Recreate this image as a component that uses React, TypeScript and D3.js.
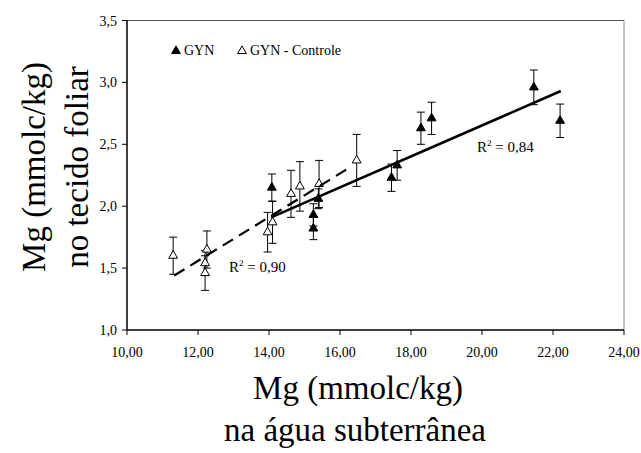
import React from "react";
import * as d3 from "d3";

// GYN (filled)
const gynX = [14.08, 15.25, 15.25, 15.39, 17.45, 17.61, 18.28, 18.58, 21.46, 22.2];
const gynY = [2.15, 1.82, 1.93, 2.06, 2.23, 2.33, 2.63, 2.71, 2.96, 2.69];
const gynErr = [0.11, 0.09, 0.09, 0.08, 0.11, 0.12, 0.13, 0.13, 0.14, 0.135];

// GYN - Controle (open)
const ctlX = [11.3, 12.2, 12.2, 12.25, 13.96, 14.1, 14.62, 14.87, 15.41, 16.47];
const ctlY = [1.6, 1.46, 1.54, 1.65, 1.79, 1.87, 2.1, 2.16, 2.18, 2.37];
const ctlErr = [0.15, 0.14, 0.1, 0.15, 0.16, 0.17, 0.19, 0.2, 0.19, 0.21];

// trend lines (endpoints in data units)
const gynFitX = [14.06, 22.22];
const gynFitY = [1.91, 2.93];
const ctlFitX = [11.33, 16.2];
const ctlFitY = [1.44, 2.3];

const xTicks = [10, 12, 14, 16, 18, 20, 22, 24];
const yTicks = [1.0, 1.5, 2.0, 2.5, 3.0, 3.5];

const ts = { fontFamily: '"Liberation Serif"' };

export default function App() {
  const W = 641, H = 453;
  const x = d3.scaleLinear().domain([10, 24]).range([127, 624]);
  const y = d3.scaleLinear().domain([1, 3.5]).range([330, 20.5]);
  const fmtX = (v: number) => v.toFixed(2).replace(".", ",");
  const fmtY = (v: number) => v.toFixed(1).replace(".", ",");
  const tri = d3.symbol().type(d3.symbolTriangle).size(34);
  const line = d3.line<[number, number]>().x(d => x(d[0])).y(d => y(d[1]));
  const cap = 4;

  const bars = (xs: number[], ys: number[], es: number[], key: string) =>
    xs.map((xv, i) => {
      const cx = x(xv), t = y(ys[i] + es[i]), b = y(ys[i] - es[i]);
      return (
        <g key={key + i} stroke="#000" strokeWidth={1}>
          <line x1={cx} x2={cx} y1={t} y2={b} />
          <line x1={cx - cap} x2={cx + cap} y1={t} y2={t} />
          <line x1={cx - cap} x2={cx + cap} y1={b} y2={b} />
        </g>
      );
    });

  return (
    <svg width={W} height={H} style={{ position: "absolute", left: 0, top: 0, background: "#fff" }}>
      <rect x={0} y={0} width={W} height={H} fill="#fff" />
      {/* frame */}
      <line x1={x(10)} x2={x(24)} y1={y(3.5)} y2={y(3.5)} stroke="#555" strokeWidth={1} />
      <line x1={x(24)} x2={x(24)} y1={y(3.5)} y2={y(1)} stroke="#888" strokeWidth={1} />
      <line x1={x(10)} x2={x(24)} y1={y(1)} y2={y(1)} stroke="#000" strokeWidth={1.5} />
      <line x1={x(10)} x2={x(10)} y1={y(3.5)} y2={y(1)} stroke="#000" strokeWidth={1.5} />
      {xTicks.map(t => (
        <g key={"xt" + t}>
          <line x1={x(t)} x2={x(t)} y1={y(1)} y2={y(1) + 5} stroke="#000" strokeWidth={1} />
          <text x={x(t)} y={357} textAnchor="middle" fontSize={14} style={ts}>{fmtX(t)}</text>
        </g>
      ))}
      {yTicks.map(t => (
        <g key={"yt" + t}>
          <line x1={x(10) - 5} x2={x(10)} y1={y(t)} y2={y(t)} stroke="#000" strokeWidth={1} />
          <text x={117} y={y(t) + 5} textAnchor="end" fontSize={14} style={ts}>{fmtY(t)}</text>
        </g>
      ))}
      {bars(ctlX, ctlY, ctlErr, "ce")}
      {bars(gynX, gynY, gynErr, "ge")}
      {ctlX.map((xv, i) => (
        <path key={"c" + i} d={tri()!} transform={`translate(${x(xv)},${y(ctlY[i])})`} fill="#fff" stroke="#000" strokeWidth={1} />
      ))}
      {gynX.map((xv, i) => (
        <path key={"g" + i} d={tri()!} transform={`translate(${x(xv)},${y(gynY[i])})`} fill="#000" stroke="#000" strokeWidth={1} />
      ))}
      <path d={line(ctlFitX.map((v, i) => [v, ctlFitY[i]]) as [number, number][])!} fill="none" stroke="#000" strokeWidth={2.2} strokeDasharray="12,7" />
      <path d={line(gynFitX.map((v, i) => [v, gynFitY[i]]) as [number, number][])!} fill="none" stroke="#000" strokeWidth={2.6} />
      {/* R2 labels */}
      <text x={229} y={272} fontSize={15} style={ts}>R<tspan dy={-6} fontSize={9}>2</tspan><tspan dy={6}> = 0,90</tspan></text>
      <text x={477} y={152} fontSize={15} style={ts}>R<tspan dy={-6} fontSize={9}>2</tspan><tspan dy={6}> = 0,84</tspan></text>
      {/* legend */}
      <path d={tri()!} transform={`translate(176,51)`} fill="#000" stroke="#000" />
      <text x={184} y={55} fontSize={14} style={ts}>GYN</text>
      <path d={tri()!} transform={`translate(242,51)`} fill="#fff" stroke="#000" />
      <text x={250} y={55} fontSize={14} style={ts}>GYN - Controle</text>
      {/* axis titles */}
      <text x={358} y={399} textAnchor="middle" fontSize={33} style={ts}>Mg (mmolc/kg)</text>
      <text x={355} y={441} textAnchor="middle" fontSize={33} style={ts}>na água subterrânea</text>
      <text transform="translate(45,167) rotate(-90)" textAnchor="middle" fontSize={33} style={ts}>Mg (mmolc/kg)</text>
      <text transform="translate(88,167) rotate(-90)" textAnchor="middle" fontSize={33} style={ts}>no tecido foliar</text>
    </svg>
  );
}
